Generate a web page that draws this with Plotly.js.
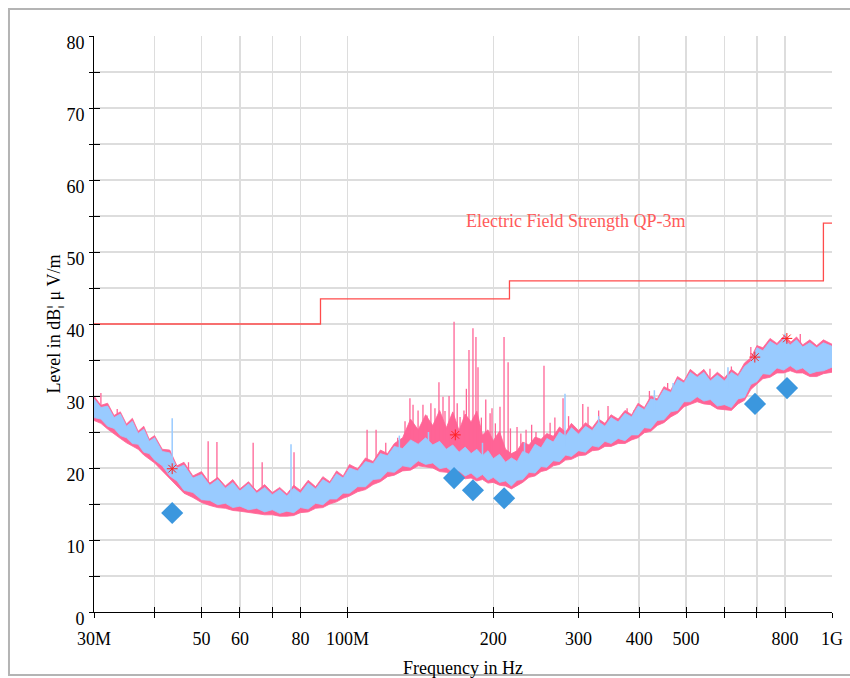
<!DOCTYPE html>
<html><head><meta charset="utf-8">
<script src="https://cdn.plot.ly/plotly-3.0.1.min.js"></script>
<style>html,body{margin:0;padding:0;background:#fff;overflow:hidden}#chart{width:850px;height:678px}</style>
</head><body><div id="chart"></div>
<script>
// Frequency grid (MHz)
const freqMHz = [30,31,32,33,34,35,36,37,38,39,40,41.5,43,44.5,46,48,50,52,54,56,58,60,62.5,65,67.5,70,72.5,75,77.5,80,83,86,89,92,95,98,101,105,109,113,117,121,125,130,135,140,145,150,155,160,165,170,175,180,185,190,195,200,206,212,218,224,230,237,244,251,258,266,274,282,290,300,310,320,330,340,350,362,374,386,398,410,423,436,450,465,480,495,510,527,544,561,580,600,620,640,660,680,700,720,745,770,795,820,845,870,900,930,960,1000];

// Light-blue trace envelope (dBµV/m)
const blueLo = [27.0,26.8,25.8,25.5,24.5,24.2,23.4,23.3,22.2,22.0,21.1,
  20.3,18.9,18.2,16.9,16.6,15.6,15.5,14.9,15.1,14.5,14.7,
  14.2,14.4,13.9,14.2,13.7,14.0,13.8,14.5,
  14.3,15.1,14.9,15.7,15.7,16.5,16.5,17.4,17.4,18.4,18.5,19.5,19.4,
  20.3,20.1,21.0,20.5,20.7,19.9,20.1,19.4,19.6,18.9,19.3,18.6,19.1,18.3,18.7,
  18.0,18.2,17.5,18.3,18.4,19.4,19.3,20.2,20.1,21.0,20.9,21.8,21.6,
  22.4,22.2,23.1,22.9,23.7,23.4,24.1,23.8,24.6,24.6,25.6,25.5,26.6,26.7,27.8,28.0,29.2,29.2,
  29.9,29.3,29.5,28.6,28.8,28.4,29.6,29.8,
  31.6,32.0,33.1,33.0,33.9,33.6,34.2,33.6,33.9,33.1,33.4,33.5,34.0];
const blueHi = [29.6,28.4,28.6,27.0,27.5,25.8,26.5,24.8,25.4,23.7,24.2,
  22.3,22.1,20.0,20.4,18.6,19.1,17.6,18.4,17.2,18.0,16.8,
  17.8,16.5,17.3,16.3,17.0,16.1,17.2,16.5,
  17.9,17.1,18.4,17.8,19.2,18.6,20.0,19.6,20.9,20.6,22.0,21.7,23.0,
  22.7,23.9,23.3,24.2,23.2,23.7,22.6,23.2,22.2,22.9,22.0,22.6,21.7,22.4,21.3,
  21.9,20.8,21.4,20.9,22.3,21.9,23.3,22.8,24.1,23.6,25.0,24.4,25.6,
  24.7,25.8,25.2,26.4,25.8,27.0,26.4,27.6,27.1,28.6,28.1,29.6,29.3,30.9,30.5,32.3,31.8,33.3,
  32.6,33.3,32.1,32.9,32.1,33.3,32.7,34.1,
  34.8,36.7,36.3,37.6,37.0,37.9,37.1,37.8,36.8,37.4,36.7,37.4,36.9];

// Pink trace envelope (dBµV/m)
const pinkLo = [26.6,26.2,25.4,24.8,24.1,23.5,23.0,22.6,21.8,21.3,20.7,
  19.6,18.5,17.5,16.5,15.9,15.2,14.8,14.5,14.4,14.1,14.0,
  13.8,13.7,13.5,13.5,13.3,13.3,13.4,13.8,
  13.9,14.4,14.5,15.0,15.3,15.8,16.1,16.7,17.0,17.7,18.1,18.8,19.0,
  19.6,19.7,20.3,20.1,20.0,19.5,19.4,19.0,18.9,18.5,18.6,18.2,18.4,17.9,18.0,
  17.6,17.5,17.1,17.6,18.0,18.7,18.9,19.5,19.7,20.3,20.5,21.1,21.2,
  21.7,21.8,22.4,22.5,23.0,23.0,23.4,23.4,23.9,24.2,24.9,25.1,25.9,26.3,27.1,27.6,28.5,28.8,
  29.2,28.9,28.8,28.2,28.1,28.0,28.9,29.4,
  30.9,31.6,32.4,32.6,33.2,33.2,33.5,33.2,33.2,32.7,32.7,33.1,33.3];
const pinkHi = [30.0,28.7,29.0,27.3,27.8,26.1,26.9,25.1,25.8,24.0,24.5,
  22.6,22.5,20.3,20.8,18.9,19.5,17.9,18.7,17.5,18.4,17.1,
  18.1,16.8,17.7,16.6,17.3,16.4,17.6,16.9,
  18.3,17.4,18.8,18.1,19.6,18.9,20.5,19.9,21.4,20.9,22.5,22.0,23.4,
  24.2,26.8,25.3,27.4,25.9,28.0,25.6,27.8,25.2,27.5,26.4,27.9,24.6,25.3,23.8,
  25.1,22.6,22.0,22.4,23.6,23.2,24.3,24.0,24.8,24.4,25.7,25.0,26.2,
  25.2,26.3,25.6,26.8,26.2,27.4,26.8,28.0,27.4,29.0,28.4,30.0,29.6,31.3,30.8,32.7,32.1,33.7,
  32.9,33.7,32.4,33.3,32.5,33.7,33.0,34.6,
  35.3,37.0,36.7,38.0,37.3,38.3,37.4,38.2,37.1,37.8,37.0,37.8,37.2];

// Narrow pink spikes: frequency, peak, foot
const pinkSpikeF = [31.0,33.5,47,51.6,53.8,63.9,66.7,77.6,109.8,114.6,120,127,131.5,134.6,136.6,139.9,143.2,146,148.7,151.6,154.5,157.5,159,162.1,166.0,168.5,170.8,174.0,176,178.2,181.6,184.2,186.0,189,193,197.0,198.8,202,206.5,210.5,214.6,217,223.9,228,233.7,240,245.0,254.5,262,268,278.6,286,306,313.7,330,345,377.7,390,420,458,560,620,680,860];
const pinkSpikeTop = [30.4,28.2,20.8,23.7,23.6,23.5,20.8,22.2,25.3,25.3,23.5,24.2,26.5,29.7,28.8,28.0,28.8,27.3,29.0,28.3,31.9,29.9,27.9,30.0,40.3,29.0,27.1,28.0,31.0,36.4,39.4,38.2,34.0,27.0,29.5,27.6,28.3,26.2,28.5,38.2,34.7,25.5,25.7,24.8,25.3,26.0,25.0,34.2,26.3,27.0,29.7,27.2,28.9,28.5,28.0,28.6,28.3,28.0,30.7,31.8,33.8,34.1,36.8,38.6];
const pinkSpikeFoot = [28,26,18,17,17,16,16,16,19,20,21,21,21,22,22,22,22,22,22,22,22,22,22,22,21,21,21,21,21,21,21,21,21,20,20,20,20,20,20,20,20,20,20,20,20,21,21,21,22,22,23,23,24,24,25,25,26,26,28,30,32,32,34,36];

// Narrow light-blue spikes
const blueSpikeF = [43.5,76.5,128,147,190,232,281.2,330,430,470,610,800];
const blueSpikeTop = [26.9,23.3,24.5,25.0,23.5,23.5,30.3,27.2,30.8,31.8,34.0,38.6];
const blueSpikeFoot = [20,15.5,22,22,21,21,23,25,28,30,31,36];

// Limit line (Electric Field Strength QP-3m)
const limitF = [30,88,216,960,1000];
const limitV = [40,43.5,46,54,54];

// Final measurement points (diamonds)
const finalF = [43.5,166,181.6,210.6,693.6,807.6];
const finalV = [13.75,18.6,16.9,15.8,28.9,31.1];

// Peak markers (asterisks)
const peakF = [43.5,167,693,807];
const peakV = [19.9,24.6,35.4,38.0];

// Axis ticks
const xTickVals = [30,40,50,60,70,80,100,200,300,400,500,600,700,800,1000];
const xTickText = ['30M','','50','60','','80','100M','200','300','400','500','','','800','1G'];
const yTickVals = [0,5,10,15,20,25,30,35,40,45,50,55,60,65,70,75,80];
const yTickText = ['0','','10','','20','','30','','40','','50','','60','','70','','80'];

const PINK = '#ff6496';
const BLUE = '#99cbff';
const SERIF = 'Liberation Serif, Times New Roman, serif';

function spikes(f, top, foot) {
  const x = [], y = [];
  for (let i = 0; i < f.length; i++) { x.push(f[i], f[i], null); y.push(foot[i], top[i], null); }
  return {x, y};
}
const ps = spikes(pinkSpikeF, pinkSpikeTop, pinkSpikeFoot);
const bs = spikes(blueSpikeF, blueSpikeTop, blueSpikeFoot);

const traces = [
  {x: freqMHz, y: pinkLo, mode: 'lines', line: {color: PINK, width: 0.8}, hoverinfo: 'skip', showlegend: false},
  {x: freqMHz, y: pinkHi, mode: 'lines', fill: 'tonexty', fillcolor: PINK, line: {color: PINK, width: 0.8}, hoverinfo: 'skip', showlegend: false},
  {x: ps.x, y: ps.y, mode: 'lines', line: {color: PINK, width: 1.3}, hoverinfo: 'skip', showlegend: false, connectgaps: false},
  {x: freqMHz, y: blueLo, mode: 'lines', line: {color: BLUE, width: 0.8}, hoverinfo: 'skip', showlegend: false},
  {x: freqMHz, y: blueHi, mode: 'lines', fill: 'tonexty', fillcolor: BLUE, line: {color: BLUE, width: 0.8}, hoverinfo: 'skip', showlegend: false},
  {x: bs.x, y: bs.y, mode: 'lines', line: {color: BLUE, width: 1.5}, hoverinfo: 'skip', showlegend: false, connectgaps: false},
  {x: limitF, y: limitV, mode: 'lines', line: {color: '#ff4b4b', width: 1.3, shape: 'hv'}, showlegend: false},
  {x: finalF, y: finalV, mode: 'markers', marker: {symbol: 'diamond', size: 17, color: '#3b97de'}, showlegend: false},
  {x: peakF, y: peakV, mode: 'markers', marker: {symbol: 'asterisk-open', size: 9, color: '#ff2020', line: {color: '#ff2020', width: 1}}, showlegend: false},
  {x: [], y: [], xaxis: 'x2', yaxis: 'y2', mode: 'markers', showlegend: false, hoverinfo: 'skip'}
];

const xr = [Math.log10(30), Math.log10(1000)];
const layout = {
  width: 850, height: 678, autosize: false,
  margin: {l: 94, r: 18, t: 36, b: 66},
  paper_bgcolor: '#fff', plot_bgcolor: '#fff',
  showlegend: false,
  font: {family: SERIF, color: '#000'},
  xaxis: {
    type: 'log', range: xr, tickmode: 'array', tickvals: xTickVals, ticktext: xTickText,
    ticks: 'outside', ticklen: 5, tickwidth: 1, tickcolor: '#000',
    showline: true, linecolor: '#000', linewidth: 1,
    showgrid: true, gridcolor: '#dddddd', gridwidth: 1.5, zeroline: false,
    tickfont: {family: SERIF, size: 18, color: '#000'}, ticklabelstandoff: 5,
    title: {text: 'Frequency in Hz', font: {family: SERIF, size: 18, color: '#000'}, standoff: 13},
    automargin: false
  },
  yaxis: {
    range: [0, 80], tickmode: 'array', tickvals: yTickVals, ticktext: yTickText,
    ticks: 'outside', ticklen: 4, tickwidth: 1, tickcolor: '#000',
    showline: true, linecolor: '#000', linewidth: 1,
    showgrid: true, gridcolor: '#dddddd', gridwidth: 1.5, zeroline: false,
    tickfont: {family: SERIF, size: 18, color: '#000'}, ticklabelshift: 7, ticklabelstandoff: 1,
    title: {text: 'Level in dB¦ μ V/m', font: {family: SERIF, size: 18, color: '#000'}, standoff: 1},
    automargin: false
  },
  xaxis2: {type: 'log', range: xr, overlaying: 'x', anchor: 'y2', side: 'bottom', tickmode: 'array', tickvals: xTickVals,
    ticks: 'inside', ticklen: 5, tickcolor: '#000', showticklabels: false, showgrid: false, showline: false, zeroline: false},
  yaxis2: {range: [0, 80], overlaying: 'y', anchor: 'x2', side: 'left', tickmode: 'array', tickvals: yTickVals,
    ticks: 'inside', ticklen: 6, tickcolor: '#000', showticklabels: false, showgrid: false, showline: false, zeroline: false},
  annotations: [{
    x: Math.log10(174), y: 54.3, xref: 'x', yref: 'y', xanchor: 'left', yanchor: 'middle', showarrow: false,
    text: 'Electric Field Strength QP-3m', font: {family: SERIF, size: 18, color: '#ff5a5a'}
  }],
  shapes: [{
    type: 'rect', xref: 'paper', yref: 'paper', x0: -0.1152, x1: 1.2, y0: -0.1094, y1: 1.0469,
    line: {color: '#b4b4b4', width: 2}, fillcolor: 'rgba(0,0,0,0)', layer: 'above'
  }]
};

Plotly.newPlot('chart', traces, layout, {staticPlot: true, displayModeBar: false});
</script></body></html>
